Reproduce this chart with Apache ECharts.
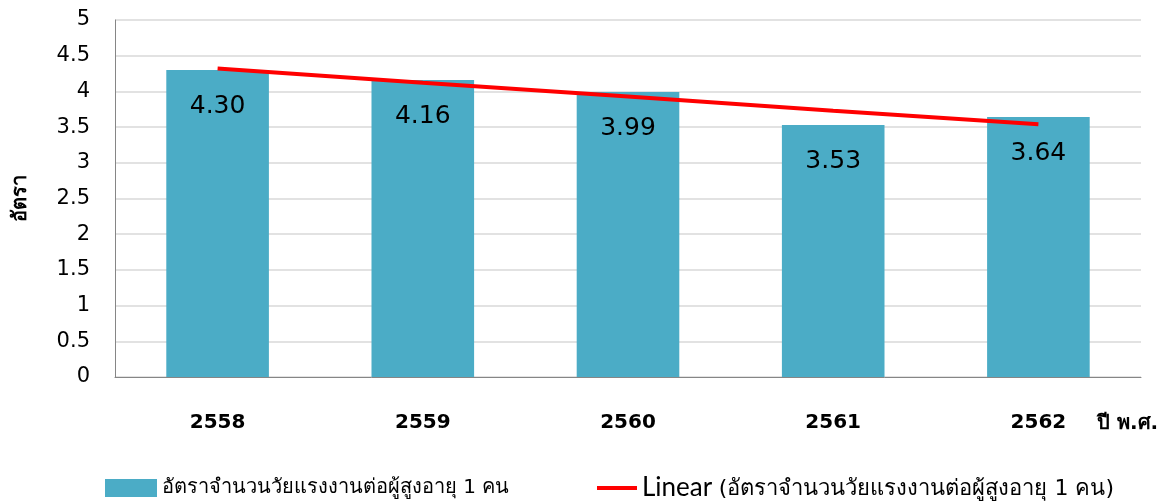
<!DOCTYPE html>
<html>
<head>
<meta charset="utf-8">
<script src="https://cdn.jsdelivr.net/npm/echarts@6/dist/echarts.min.js"></script>
<style>html,body{margin:0;padding:0;background:#fff}#c{width:1176px;height:504px}</style>
</head>
<body>
<div id="c"></div>
<script>
const categories = ['2558', '2559', '2560', '2561', '2562'];
const ratioValues = [4.30, 4.16, 3.99, 3.53, 3.64];
const trendValues = [4.32, 4.12, 3.93, 3.73, 3.54];
const yTicks = { min: 0, max: 5, interval: 0.5 };
const seriesName = 'อัตราจำนวนวัยแรงงานต่อผู้สูงอายุ 1 คน';
const trendName = 'Linear (อัตราจำนวนวัยแรงงานต่อผู้สูงอายุ 1 คน)';
const yName = 'อัตรา';
const xName = 'ปี พ.ศ.';

const FONT = '"DejaVu Sans", "Noto Sans", sans-serif';
const chart = echarts.init(document.getElementById('c'), null, { renderer: 'canvas' });
chart.setOption({
  backgroundColor: '#ffffff',
  animation: false,
  textStyle: { fontFamily: FONT },
  grid: { left: 115, right: 35, top: 20, bottom: 127, containLabel: false, outerBoundsMode: 'none' },
  legend: [
    {
      data: [seriesName],
      left: 100, top: 473,
      itemWidth: 52, itemHeight: 18, itemGap: 5,
      icon: 'rect',
      textStyle: { fontSize: 20, color: '#000', fontFamily: FONT }
    },
    {
      data: [trendName],
      left: 592, top: 470,
      itemWidth: 40, itemHeight: 4,
      icon: 'rect',
      formatter: function () { return '{a|Linear }{b|(อัตราจำนวนวัยแรงงานต่อผู้สูงอายุ 1 คน)}'; },
      textStyle: {
        color: '#000', fontFamily: FONT,
        rich: {
          a: { fontSize: 26, color: '#000', fontFamily: 'Lato, ' + FONT },
          b: { fontSize: 22, color: '#000', fontFamily: FONT, padding: [3, 0, 0, 0] }
        }
      }
    }
  ],
  xAxis: {
    type: 'category',
    data: categories,
    boundaryGap: true,
    axisLine: { show: true, lineStyle: { color: '#868686', width: 1 } },
    axisTick: { show: false },
    axisLabel: { fontSize: 20, fontWeight: 'bold', color: '#000', margin: 36, fontFamily: FONT },
    name: xName,
    nameLocation: 'end',
    nameGap: -44,
    nameTextStyle: { fontSize: 20, fontWeight: 'bold', color: '#000', verticalAlign: 'top', padding: [37, 0, 0, 0], fontFamily: FONT }
  },
  yAxis: {
    type: 'value',
    min: yTicks.min, max: yTicks.max, interval: yTicks.interval,
    axisLine: { show: true, lineStyle: { color: '#868686', width: 1 } },
    axisTick: { show: false },
    splitLine: { show: true, lineStyle: { color: '#d9d9d9', width: 1.5 } },
    axisLabel: { fontSize: 21, color: '#000', margin: 25, fontFamily: FONT },
    name: yName,
    nameLocation: 'middle',
    nameRotate: 90,
    nameGap: 84,
    nameTextStyle: { fontSize: 20, fontWeight: 'bold', color: '#000', fontFamily: FONT }
  },
  series: [
    {
      name: seriesName,
      type: 'bar',
      data: ratioValues,
      barWidth: '50%',
      itemStyle: { color: '#4BACC6' },
      label: {
        show: true, position: 'insideTop', distance: 24,
        fontSize: 25, color: '#000', fontFamily: FONT,
        formatter: function (p) { return p.value.toFixed(2); }
      },
      z: 2
    },
    {
      name: trendName,
      type: 'line',
      data: trendValues,
      symbol: 'none',
      lineStyle: { color: '#FF0000', width: 4 },
      itemStyle: { color: '#FF0000' },
      z: 3
    }
  ]
});
</script>
</body>
</html>
